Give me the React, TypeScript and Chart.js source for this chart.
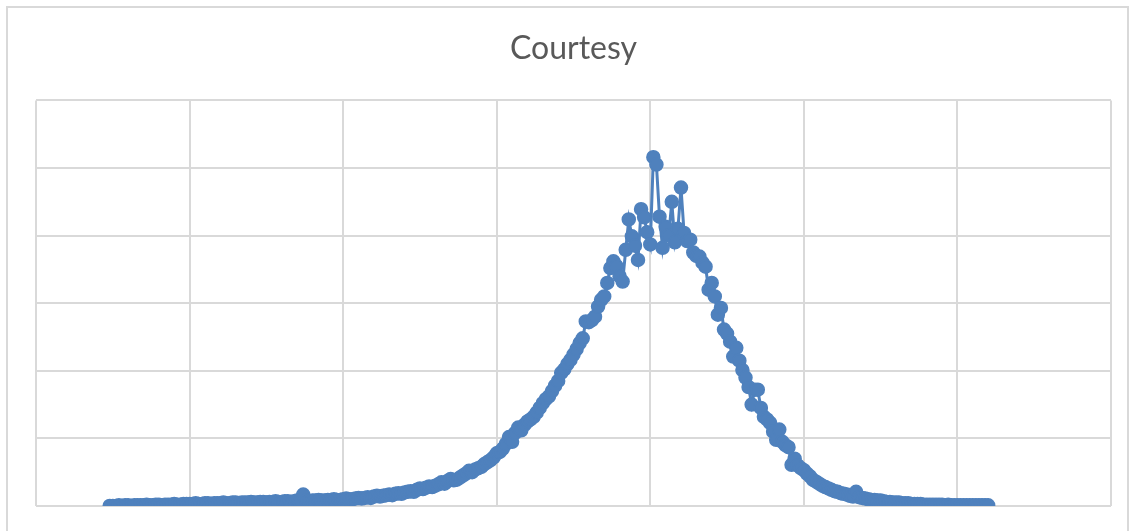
import React, { useEffect, useRef } from "react";
import { Chart, registerables } from "chart.js";

Chart.register(...registerables);

const TITLE = "Courtesy";
const X_MIN = 0;
const X_MAX = 350;
const X_STEP = 50;
const Y_MIN = 0;
const Y_MAX = 6;
const Y_STEP = 1;
const FIRST_X = 24;

// one value per x unit, starting at FIRST_X
const VALUES: number[] = [
  // 24..49
  0.00, 0.00, 0.00, 0.01, 0.00, 0.01, 0.01, 0.00, 0.01, 0.01, 0.01, 0.01, 0.02,
  0.01, 0.01, 0.02, 0.02, 0.01, 0.02, 0.02, 0.02, 0.03, 0.02, 0.02, 0.03, 0.03,
  // 50..99
  0.03, 0.03, 0.04, 0.03, 0.03, 0.04, 0.04, 0.03, 0.04, 0.04,
  0.04, 0.05, 0.04, 0.04, 0.05, 0.05, 0.04, 0.05, 0.05, 0.05,
  0.06, 0.05, 0.05, 0.06, 0.06, 0.05, 0.06, 0.06, 0.07, 0.06,
  0.06, 0.07, 0.07, 0.06, 0.07, 0.08, 0.07, 0.17, 0.08, 0.07,
  0.08, 0.08, 0.09, 0.08, 0.08, 0.09, 0.09, 0.10, 0.09, 0.09,
  // 100..149
  0.10, 0.11, 0.10, 0.10, 0.11, 0.12, 0.11, 0.12, 0.13, 0.12,
  0.14, 0.15, 0.14, 0.15, 0.16, 0.17, 0.16, 0.18, 0.19, 0.18,
  0.20, 0.21, 0.22, 0.21, 0.24, 0.26, 0.25, 0.27, 0.29, 0.28,
  0.30, 0.32, 0.35, 0.33, 0.37, 0.40, 0.38, 0.39, 0.42, 0.45,
  0.48, 0.52, 0.50, 0.54, 0.56, 0.58, 0.62, 0.65, 0.68, 0.72,
  // 150..199
  0.78, 0.80, 0.85, 0.92, 1.02, 0.95, 1.08, 1.16, 1.12, 1.20,
  1.25, 1.28, 1.32, 1.38, 1.45, 1.52, 1.58, 1.62, 1.70, 1.78,
  1.85, 1.97, 2.02, 2.10, 2.16, 2.24, 2.32, 2.41, 2.48, 2.73,
  2.72, 2.75, 2.80, 2.95, 3.05, 3.10, 3.30, 3.52, 3.62, 3.55,
  3.40, 3.32, 3.79, 4.24, 3.99, 3.85, 3.64, 4.39, 4.27, 4.05,
  // 200..249
  3.87, 5.16, 5.05, 4.28, 3.82, 4.13, 4.00, 4.50, 3.90, 4.10,
  4.71, 4.04, 3.92, 3.94, 3.75, 3.70, 3.69, 3.60, 3.54, 3.20,
  3.30, 3.10, 2.83, 2.93, 2.61, 2.55, 2.43, 2.21, 2.34, 2.15,
  2.01, 1.90, 1.76, 1.50, 1.72, 1.72, 1.45, 1.32, 1.28, 1.23,
  1.10, 0.98, 1.13, 0.95, 0.90, 0.87, 0.61, 0.70, 0.60, 0.56,
  // 250..299
  0.53, 0.48, 0.44, 0.385, 0.36, 0.33, 0.30, 0.28, 0.26, 0.24,
  0.22, 0.21, 0.19, 0.18, 0.17, 0.15, 0.14, 0.21, 0.13, 0.12,
  0.11, 0.10, 0.09, 0.09, 0.08, 0.08, 0.07, 0.06, 0.06, 0.05,
  0.05, 0.05, 0.04, 0.04, 0.04, 0.03, 0.03, 0.03, 0.03, 0.02,
  0.02, 0.02, 0.02, 0.02, 0.02, 0.02, 0.01, 0.02, 0.01, 0.01,
  // 300..310
  0.01, 0.01, 0.01, 0.01, 0.01, 0.01, 0.01, 0.01, 0.01, 0.01, 0.01,
];

const BLUE = "#4f81bd";
const GRID = "#d9d9d9";

const frame = {
  id: "outerFrame",
  beforeDraw(chart: any) {
    const { ctx, width } = chart;
    ctx.save();
    ctx.fillStyle = "#ffffff";
    ctx.fillRect(0, 0, width, chart.height);
    ctx.strokeStyle = GRID;
    ctx.lineWidth = 2;
    ctx.beginPath();
    ctx.moveTo(7, chart.height + 5);
    ctx.lineTo(7, 7);
    ctx.lineTo(width - 7, 7);
    ctx.lineTo(width - 7, chart.height + 5);
    ctx.stroke();
    ctx.restore();
  },
};

export default function App() {
  const ref = useRef<HTMLCanvasElement | null>(null);
  useEffect(() => {
    if (!ref.current) return;
    const points = VALUES.map((v, i) => ({ x: FIRST_X + i, y: v }));
    const chart = new Chart(ref.current, {
      type: "line",
      data: {
        datasets: [
          {
            label: TITLE,
            data: points,
            borderColor: BLUE,
            backgroundColor: BLUE,
            borderWidth: 3,
            pointRadius: 6.5,
            pointBorderWidth: 1.5,
            pointBorderColor: BLUE,
            pointBackgroundColor: BLUE,
            tension: 0,
          },
        ],
      },
      options: {
        responsive: false,
        animation: false,
        layout: { padding: { left: 36, right: 24, top: 0, bottom: 25 } },
        plugins: {
          legend: { display: false },
          tooltip: { enabled: false },
          title: {
            display: true,
            text: TITLE,
            color: "#595959",
            font: { family: "Lato", size: 32, weight: "normal" },
            padding: { top: 29, bottom: 33 },
          },
        },
        scales: {
          x: {
            type: "linear",
            min: X_MIN,
            max: X_MAX,
            ticks: { display: false, stepSize: X_STEP },
            grid: { color: GRID, lineWidth: 2, drawTicks: false, tickLength: 0 },
            border: { display: false },
          },
          y: {
            type: "linear",
            min: Y_MIN,
            max: Y_MAX,
            ticks: { display: false, stepSize: Y_STEP },
            grid: { color: GRID, lineWidth: 2, drawTicks: false, tickLength: 0 },
            border: { display: false },
          },
        },
      },
      plugins: [frame],
    });
    return () => chart.destroy();
  }, []);
  return (
    <div style={{ position: "fixed", left: 0, top: 0, width: 1135, height: 531, background: "#fff" }}>
      <canvas ref={ref} width={1135} height={531} style={{ display: "block" }} />
    </div>
  );
}
